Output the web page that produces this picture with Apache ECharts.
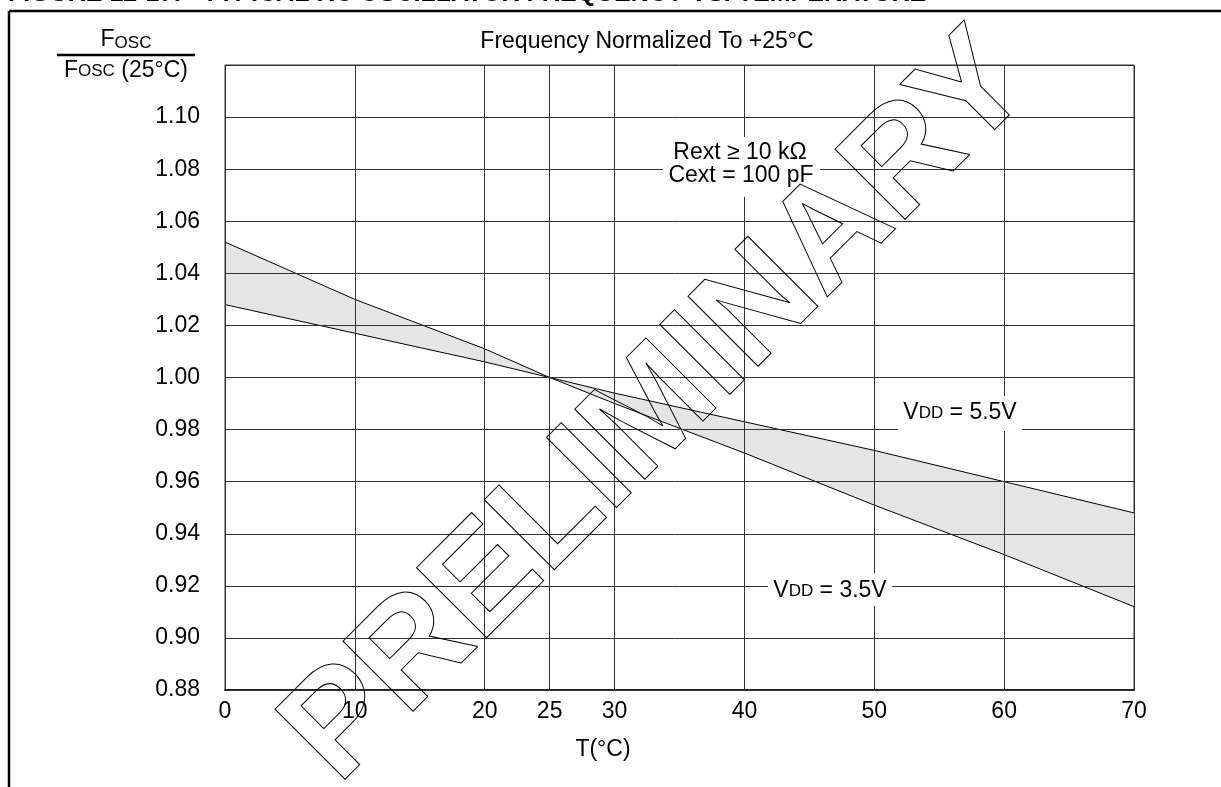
<!DOCTYPE html>
<html>
<head>
<meta charset="utf-8">
<script src="https://cdn.jsdelivr.net/npm/echarts@6/dist/echarts.min.js"></script>
<style>
html,body{margin:0;padding:0;background:#fff;}
#chart{width:1221px;height:787px;}
</style>
</head>
<body>
<div id="chart"></div>
<script>
// ---- data ----
var temps = [0, 10, 20, 25, 30, 40, 50, 60, 70];
var vdd55 = [1.028, 1.017, 1.006, 1.000, 0.994, 0.983, 0.972, 0.960, 0.948];
var vdd35 = [1.052, 1.030, 1.011, 1.000, 0.990, 0.971, 0.951, 0.932, 0.912];
var xTickValues = [0, 10, 20, 25, 30, 40, 50, 60, 70];
var yTickValues = [0.88, 0.90, 0.92, 0.94, 0.96, 0.98, 1.00, 1.02, 1.04, 1.06, 1.08, 1.10, 1.12];

var FONT = '"Liberation Sans", Arial, Helvetica, sans-serif';
var chart = echarts.init(document.getElementById('chart'), null, {renderer: 'canvas'});

function pairs(xs, ys) { return xs.map(function (x, i) { return [x, ys[i]]; }); }

var gridMarks = [];
xTickValues.forEach(function (v) { gridMarks.push({xAxis: v}); });
yTickValues.forEach(function (v) { gridMarks.push({yAxis: v}); });

var option = {
  animation: false,
  backgroundColor: '#fff',
  grid: {left: 225, right: 87, top: 65, bottom: 97, show: true, borderColor: '#333', borderWidth: 1, containLabel: false},
  xAxis: {
    type: 'value', min: 0, max: 70, interval: 5,
    splitLine: {show: false},
    axisTick: {show: false},
    axisLine: {show: true, onZero: false, lineStyle: {color: '#222', width: 2}},
    axisLabel: {customValues: xTickValues, color: '#000', fontFamily: FONT, fontSize: 23, margin: 10}
  },
  yAxis: {
    type: 'value', min: 0.88, max: 1.12, interval: 0.02,
    splitLine: {show: false},
    axisTick: {show: false},
    axisLine: {show: false},
    axisLabel: {
      color: '#000', fontFamily: FONT, fontSize: 23, margin: 25,
      formatter: function (v) { return v > 1.11 ? '' : v.toFixed(2); }
    }
  },
  series: [
    {
      name: 'band', type: 'custom', z: 1, silent: true,
      data: [[0, 1]],
      renderItem: function (params, api) {
        var pts = [];
        for (var i = 0; i < temps.length; i++) pts.push(api.coord([temps[i], vdd55[i]]));
        for (var j = temps.length - 1; j >= 0; j--) pts.push(api.coord([temps[j], vdd35[j]]));
        return {type: 'polygon', shape: {points: pts}, style: {fill: '#e5e5e5', stroke: null}};
      }
    },
    {
      name: 'grid', type: 'line', z: 2, silent: true, data: [],
      markLine: {
        silent: true, symbol: 'none', animation: false,
        label: {show: false},
        lineStyle: {color: '#333', width: 1, type: 'solid'},
        emphasis: {disabled: true},
        data: gridMarks
      }
    },
    {
      name: 'VDD = 5.5V', type: 'line', z: 3, data: pairs(temps, vdd55),
      showSymbol: false, symbol: 'none', lineStyle: {color: '#000', width: 1}
    },
    {
      name: 'VDD = 3.5V', type: 'line', z: 3, data: pairs(temps, vdd35),
      showSymbol: false, symbol: 'none', lineStyle: {color: '#000', width: 1}
    }
  ],
  graphic: [
    // outer frame
    {type: 'line', z: 100, shape: {x1: 9, y1: 11, x2: 1221, y2: 11}, style: {stroke: '#000', lineWidth: 2.5}},
    {type: 'line', z: 100, shape: {x1: 9, y1: 11, x2: 9, y2: 787}, style: {stroke: '#000', lineWidth: 2.5}},
    // cut-off figure title
    {type: 'text', z: 100, x: 8, y: -6, style: {text: 'FIGURE 12-17:   TYPICAL RC OSCILLATOR FREQUENCY VS. TEMPERATURE', font: 'bold 25px ' + FONT, fill: '#000', verticalAlign: 'middle', align: 'left'}},
    // y axis name (fraction)
    {type: 'text', z: 100, x: 126, y: 40, style: {
      text: '{a|F}{b|OSC}', align: 'center', verticalAlign: 'middle',
      rich: {a: {fontFamily: FONT, fontSize: 23, fill: '#000'}, b: {fontFamily: FONT, fontSize: 17, fill: '#000', verticalAlign: 'bottom'}}
    }},
    {type: 'line', z: 100, shape: {x1: 57, y1: 55, x2: 195, y2: 55}, style: {stroke: '#000', lineWidth: 2.5}},
    {type: 'text', z: 100, x: 126, y: 71, style: {
      text: '{a|F}{b|OSC}{a| (25°C)}', align: 'center', verticalAlign: 'middle',
      rich: {a: {fontFamily: FONT, fontSize: 23, fill: '#000'}, b: {fontFamily: FONT, fontSize: 17, fill: '#000'}}
    }},
    // chart heading
    {type: 'text', z: 100, x: 647, y: 42, style: {text: 'Frequency Normalized To +25°C', font: '23px ' + FONT, fill: '#000', align: 'center', verticalAlign: 'middle'}},
    // condition labels
    {type: 'rect', z: 100, shape: {x: 663, y: 137, width: 157, height: 60}, style: {fill: '#fff'}},
    {type: 'text', z: 101, x: 740, y: 153, style: {text: 'Rext ≥ 10 kΩ', font: '23px ' + FONT, fill: '#000', align: 'center', verticalAlign: 'middle'}},
    {type: 'text', z: 101, x: 741, y: 176, style: {text: 'Cext = 100 pF', font: '23px ' + FONT, fill: '#000', align: 'center', verticalAlign: 'middle'}},
    // series labels
    {type: 'rect', z: 100, shape: {x: 898, y: 396, width: 124, height: 35}, style: {fill: '#fff'}},
    {type: 'text', z: 101, x: 960, y: 413, style: {
      text: '{a|V}{b|DD}{a| = 5.5V}', align: 'center', verticalAlign: 'middle',
      rich: {a: {fontFamily: FONT, fontSize: 23, fill: '#000'}, b: {fontFamily: FONT, fontSize: 17, fill: '#000'}}
    }},
    {type: 'rect', z: 100, shape: {x: 768, y: 573, width: 124, height: 33}, style: {fill: '#fff'}},
    {type: 'text', z: 101, x: 830, y: 591, style: {
      text: '{a|V}{b|DD}{a| = 3.5V}', align: 'center', verticalAlign: 'middle',
      rich: {a: {fontFamily: FONT, fontSize: 23, fill: '#000'}, b: {fontFamily: FONT, fontSize: 17, fill: '#000'}}
    }},
    // x axis name
    {type: 'text', z: 100, x: 603, y: 750, style: {text: 'T(°C)', font: '23px ' + FONT, fill: '#000', align: 'center', verticalAlign: 'middle'}},
    // watermark
    {type: 'text', z: 120, x: 659, y: 409, rotation: Math.PI / 4, originX: 0, originY: 0, silent: true,
      style: {text: 'PRELIMINARY', font: 'bold 144px ' + FONT, fill: 'rgba(0,0,0,0)', stroke: '#000', lineWidth: 1, align: 'center', verticalAlign: 'middle'}}
  ]
};
chart.setOption(option);
</script>
</body>
</html>
